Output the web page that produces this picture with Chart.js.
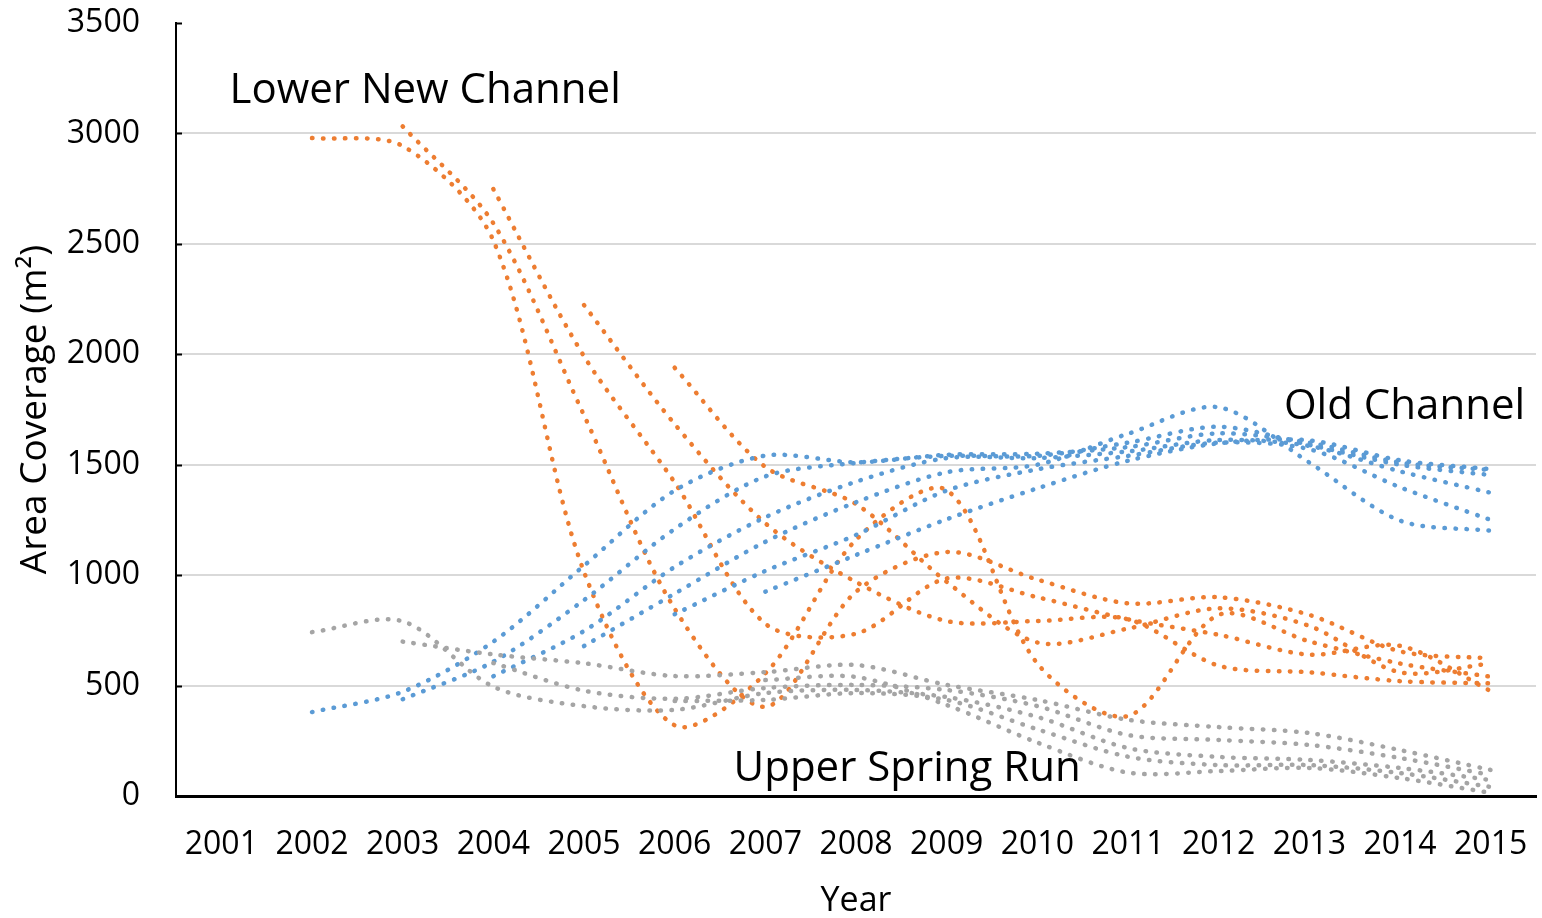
<!DOCTYPE html>
<html>
<head>
<meta charset="utf-8">
<title>Area Coverage</title>
<script src="https://cdn.jsdelivr.net/npm/chart.js@4.4.1/dist/chart.umd.min.js"></script>
<style>
	html, body { margin: 0; padding: 0; background: #fff; }
	canvas { display: block; }
</style>
</head>
<body>
<canvas id="coverageChart" width="1542" height="918"></canvas>
<script>
// 연도 (x축)
const years = ['2001', '2002', '2003', '2004', '2005', '2006', '2007', '2008',
	'2009', '2010', '2011', '2012', '2013', '2014', '2015'];

// y축 눈금
const yTicks = [0, 500, 1000, 1500, 2000, 2500, 3000, 3500];

// Lower New Channel (주황)
const lowerNew1 = [null, 2979, 2943, 2515, 1015, 320, 555, 1160, 1385, 600, 362, 820, 700, 600, 540];
const lowerNew2 = [null, null, 3032, 2593, 1724, 848, 404, 925, 1105, 980, 872, 900, 820, 655, 623];
const lowerNew3 = [null, null, null, 2748, 1991, 1420, 780, 735, 985, 900, 800, 730, 640, 680, 475];
const lowerNew4 = [null, null, null, null, 2223, 1684, 1235, 969, 792, 792, 800, 590, 560, 520, 510];
const lowerNew5 = [null, null, null, null, null, 1939, 1490, 1322, 970, 695, 758, 850, 770, 560, 600];

// Old Channel (파랑)
const oldCh1 = [null, 380, 472, 699, 1043, 1383, 1541, 1511, 1545, 1550, 1580, 1642, 1600, 1510, 1476];
const oldCh2 = [null, null, 438, 608, 887, 1209, 1447, 1508, 1540, 1540, 1600, 1672, 1590, 1500, 1453];
const oldCh3 = [null, null, null, 542, 747, 1037, 1262, 1423, 1530, 1530, 1560, 1612, 1585, 1470, 1373];
const oldCh4 = [null, null, null, null, 679, 916, 1151, 1330, 1466, 1500, 1640, 1760, 1510, 1247, 1201];
const oldCh5 = [null, null, null, null, null, 823, 1019, 1182, 1383, 1479, 1540, 1600, 1570, 1398, 1250];
const oldCh6 = [null, null, null, null, null, null, 925, 1091, 1253, 1393, 1518, 1597, 1610, 1520, 1480];

// Upper Spring Run (회색)
const upperSpring1 = [null, 742, 791, 495, 407, 390, 466, 480, 448, 358, 217, 177, 163, 127, 72];
const upperSpring2 = [null, null, 699, 641, 601, 543, 561, 593, 503, 435, 345, 312, 285, 208, 118];
const upperSpring3 = [null, null, null, 602, 477, 440, 489, 503, 480, 407, 276, 254, 231, 172, 95];
const upperSpring4 = [null, null, null, null, null, 430, 435, 466, 435, 302, 178, 140, 140, 104, 41];
const upperSpring5 = [null, null, null, null, null, null, 525, 539, 412, 242, 106, 113, 127, 81, 14];

// 그룹 이름표 (x = 연도 인덱스, y = 값)
const groupLabels = [
	{ text: 'Lower New Channel', x: 0.09, y: 3192 },
	{ text: 'Old Channel', x: 11.72, y: 1761 },
	{ text: 'Upper Spring Run', x: 5.65, y: 122 }
];

const colors = {
	orange: '#ED7D31',
	blue: '#5B9BD5',
	gray: '#A5A5A5'
};

const FONT = "'Open Sans', 'Noto Sans', sans-serif";

// 점선 스타일 데이터셋 생성
function dotted(label, data, color) {
	return {
		label: label,
		data: data,
		borderColor: color,
		backgroundColor: color,
		borderWidth: 4.5,
		borderDash: [0.5, 10.5],
		borderCapStyle: 'round',
		pointRadius: 0,
		pointHoverRadius: 0,
		tension: 0.3,
		fill: false
	};
}

// y축 안쪽 눈금 표시
const innerTicks = {
	id: 'innerTicks',
	afterDraw(chart) {
		const ctx = chart.ctx;
		const y = chart.scales.y;
		const left = chart.chartArea.left;
		ctx.save();
		ctx.strokeStyle = '#000';
		ctx.lineWidth = 2;
		yTicks.forEach(v => {
			const py = Math.round(y.getPixelForValue(v)) + 0.5;
			ctx.beginPath();
			ctx.moveTo(left, py);
			ctx.lineTo(left + 6, py);
			ctx.stroke();
		});
		ctx.restore();
	}
};

// 그룹 이름 텍스트
const groupText = {
	id: 'groupText',
	afterDatasetsDraw(chart) {
		const ctx = chart.ctx;
		const xs = chart.scales.x;
		const ys = chart.scales.y;
		ctx.save();
		ctx.fillStyle = '#000';
		ctx.font = '42px ' + FONT;
		ctx.textAlign = 'left';
		ctx.textBaseline = 'middle';
		groupLabels.forEach(g => {
			ctx.fillText(g.text, xs.getPixelForValue(g.x), ys.getPixelForValue(g.y));
		});
		ctx.restore();
	}
};

document.addEventListener("DOMContentLoaded", () => {
	const datasets = [
		dotted('Upper Spring Run 1', upperSpring1, colors.gray),
		dotted('Upper Spring Run 2', upperSpring2, colors.gray),
		dotted('Upper Spring Run 3', upperSpring3, colors.gray),
		dotted('Upper Spring Run 4', upperSpring4, colors.gray),
		dotted('Upper Spring Run 5', upperSpring5, colors.gray),
		dotted('Old Channel 1', oldCh1, colors.blue),
		dotted('Old Channel 2', oldCh2, colors.blue),
		dotted('Old Channel 3', oldCh3, colors.blue),
		dotted('Old Channel 4', oldCh4, colors.blue),
		dotted('Old Channel 5', oldCh5, colors.blue),
		dotted('Old Channel 6', oldCh6, colors.blue),
		dotted('Lower New Channel 1', lowerNew1, colors.orange),
		dotted('Lower New Channel 2', lowerNew2, colors.orange),
		dotted('Lower New Channel 3', lowerNew3, colors.orange),
		dotted('Lower New Channel 4', lowerNew4, colors.orange),
		dotted('Lower New Channel 5', lowerNew5, colors.orange)
	];

	const options = {
		responsive: false,
		animation: false,
		devicePixelRatio: 1,
		layout: {
			padding: { top: 23, right: 6, bottom: 0, left: 0 }
		},
		plugins: {
			legend: { display: false },
			tooltip: { enabled: false },
			title: { display: false }
		},
		scales: {
			x: {
				type: 'category',
				offset: true,
				grid: { display: false, drawTicks: false },
				border: { display: true, color: '#000', width: 3 },
				ticks: {
					color: '#000',
					padding: 30,
					maxRotation: 0,
					autoSkip: false,
					font: { family: FONT, size: 32 }
				},
				title: {
					display: true,
					text: 'Year',
					color: '#000',
					padding: { top: 0, bottom: 0 },
					font: { family: FONT, size: 34, lineHeight: 1.0 }
				},
				afterFit: (scale) => {
					scale.height = 122;
					scale.paddingLeft = 0;
					scale.paddingRight = 0;
				}
			},
			y: {
				min: 0,
				max: 3500,
				afterBuildTicks: (scale) => {
					scale.ticks = yTicks.map(v => ({ value: v }));
				},
				grid: {
					drawTicks: false,
					lineWidth: 2,
					color: (ctx) => (ctx.tick && ctx.tick.value === 3500) ? 'rgba(0,0,0,0)' : '#D9D9D9'
				},
				border: { display: true, color: '#000', width: 2 },
				ticks: {
					color: '#000',
					padding: 36,
					font: { family: FONT, size: 32 },
					callback: (value) => String(value)
				},
				title: {
					display: true,
					text: 'Area Coverage (m²)',
					color: '#000',
					padding: { top: 13, bottom: 0 },
					font: { family: FONT, size: 37 }
				},
				afterFit: (scale) => {
					scale.width = 176;
					scale.paddingTop = 0;
					scale.paddingBottom = 0;
				}
			}
		}
	};

	window.coverageChart = new Chart(
		document.getElementById('coverageChart'),
		{
			type: 'line',
			data: { labels: years, datasets: datasets },
			options: options,
			plugins: [innerTicks, groupText]
		}
	);
});
</script>
</body>
</html>
